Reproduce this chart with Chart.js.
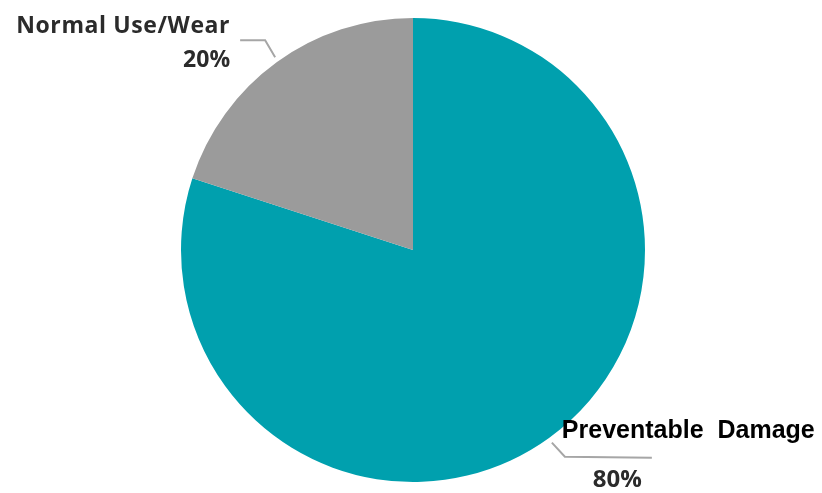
<!DOCTYPE html>
<html>
<head>
<meta charset="utf-8">
<script src="https://cdn.jsdelivr.net/npm/chart.js@4.4.1/dist/chart.umd.min.js"></script>
<style>
html,body{margin:0;padding:0;background:#fff;}
#wrap{width:822px;height:493px;position:relative;}
</style>
</head>
<body>
<div id="wrap"><canvas id="c" width="822" height="493"></canvas></div>
<script>
const categories = ["Preventable Damage", "Normal Use/Wear"];
const values = [80, 20];
const percentLabels = ["80%", "20%"];
const colors = ["#00A0AE", "#9B9B9B"];

const labelPlugin = {
  id: 'calloutLabels',
  afterDatasetsDraw(chart) {
    const ctx = chart.ctx;
    const meta = chart.getDatasetMeta(0);
    ctx.save();
    meta.data.forEach((arc, i) => {
      const p = arc.getProps(['x','y','startAngle','endAngle','outerRadius'], true);
      const mid = (p.startAngle + p.endAngle) / 2;
      const px = p.x + Math.cos(mid) * p.outerRadius;
      const py = p.y + Math.sin(mid) * p.outerRadius;
      ctx.strokeStyle = '#A6A6A6';
      ctx.lineWidth = 2;
      ctx.beginPath();
      if (i === 1) {
        // Normal Use/Wear (upper-left)
        const sx = px - 1.5, sy = py - 5;
        const ex = sx - 10, ey = sy - 17;
        ctx.moveTo(sx, sy);
        ctx.lineTo(ex, ey);
        ctx.lineTo(ex - 25, ey);
        ctx.stroke();
        ctx.fillStyle = '#2B2B2B';
        ctx.font = 'bold 23px "Open Sans", "Liberation Sans", sans-serif';
        ctx.textAlign = 'right';
        ctx.textBaseline = 'alphabetic';
        ctx.letterSpacing = '0.6px';
        ctx.fillText(categories[i], ex - 35, ey - 7);
        ctx.letterSpacing = '0px';
        ctx.fillText(percentLabels[i], ex - 35, ey + 27);
      } else {
        // Preventable Damage (lower-right)
        const sx = px + 2.5, sy = py + 5;
        const ex = sx + 13, ey = sy + 14;
        ctx.moveTo(sx, sy);
        ctx.lineTo(ex, ey);
        ctx.lineTo(ex + 87, ey + 1);
        ctx.stroke();
        ctx.fillStyle = '#000000';
        ctx.font = 'bold 25px "Liberation Sans", Arial, sans-serif';
        ctx.textAlign = 'left';
        ctx.textBaseline = 'alphabetic';
        ctx.fillText('Preventable  Damage', ex - 3, ey - 19);
        ctx.fillStyle = '#2B2B2B';
        ctx.font = 'bold 24px "Open Sans", "Liberation Sans", sans-serif';
        ctx.fillText(percentLabels[i], ex + 28, ey + 30);
      }
    });
    ctx.restore();
  }
};

new Chart(document.getElementById('c'), {
  type: 'pie',
  data: {
    labels: categories,
    datasets: [{
      data: values,
      backgroundColor: colors,
      borderWidth: 0
    }]
  },
  options: {
    responsive: false,
    animation: false,
    layout: { padding: { top: 18, bottom: 11, left: 4, right: 0 } },
    plugins: {
      legend: { display: false },
      tooltip: { enabled: false }
    }
  },
  plugins: [labelPlugin]
});
</script>
</body>
</html>
